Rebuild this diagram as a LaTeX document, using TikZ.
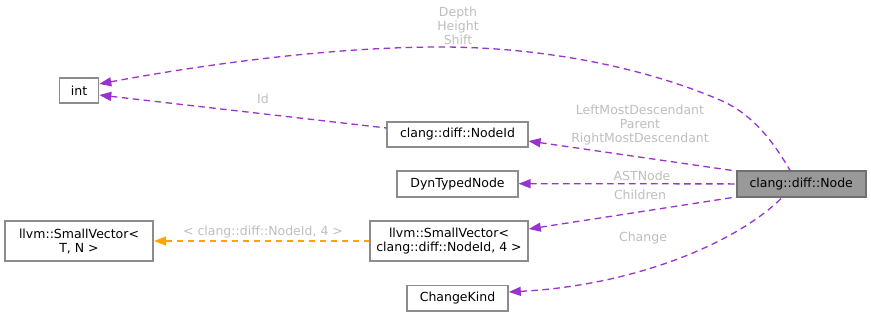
\documentclass[tikz,border=0pt]{standalone}
\usepackage{fontspec}
\setmainfont{DejaVu Sans}
\usetikzlibrary{arrows.meta}
\definecolor{edgepurple}{HTML}{9A32CD}
\definecolor{edgeorange}{HTML}{FFA500}
\definecolor{labelgrey}{HTML}{BEBEBE}
\definecolor{boxline}{HTML}{8C8C8C}
\definecolor{boxfill}{HTML}{999999}
\tikzset{
  cls/.style={draw=boxline, line width=1.6pt, fill=white, inner sep=0pt,
    font=\fontsize{12.5}{14}\selectfont, align=center, text=black},
  curcls/.style={cls, fill=boxfill, draw=boxline!80!black},
  rel/.style={draw=edgepurple, line width=1.3pt, dash pattern=on 6.5pt off 4.5pt,
    {Triangle[length=12pt,width=9pt,fill=edgepurple]}-},
  inst/.style={draw=edgeorange, line width=1.3pt, dash pattern=on 6.5pt off 4.5pt,
    {Triangle[length=12pt,width=9pt,fill=edgeorange]}-},
  lbl/.style={text=labelgrey, font=\fontsize{12.5}{14}\selectfont, align=center, inner sep=0pt}
}
\begin{document}
\begin{tikzpicture}[x=1pt,y=-1pt]
\useasboundingbox (0,0) rectangle (871,317);

% classes
\node[cls, minimum width=39pt, minimum height=25.5pt] (int) at (79,90.5) {int};
\node[cls, minimum width=140.5pt, minimum height=25.5pt] (nid) at (457.5,134.5) {clang::diff::NodeId};
\node[cls, minimum width=120.5pt, minimum height=26pt] (dyn) at (457.5,183.7) {DynTypedNode};
\node[curcls, minimum width=129pt, minimum height=25.7pt] (node) at (801.2,183.9) {clang::diff::Node};
\node[cls, minimum width=148.5pt, minimum height=40.3pt] (svtn) at (79,241) {llvm::SmallVector\textless\\T, N \textgreater};
\node[cls, minimum width=158pt, minimum height=40.3pt] (svid) at (449,241) {llvm::SmallVector\textless\\clang::diff::NodeId, 4 \textgreater};
\node[cls, minimum width=101pt, minimum height=25.7pt] (ck) at (457.5,298.2) {ChangeKind};

% member relations
\draw[rel] (int.east |- 0,84) .. controls (200,65) and (330,47) .. (440,47)
  .. controls (550,47) and (650,70) .. (720,100)
  .. controls (755,115) and (775,145) .. (node.north -| 790,0);
\node[lbl] (l1) at (458,26) {Depth\\Height\\Shift};

\draw[rel] (int.east |- 0,95) -- (nid.west |- 0,128);
\node[lbl] (l2) at (263,99) {Id};

\draw[rel] (nid.east |- 0,141) -- (node.north west |- 0,171) ;
\node[lbl] (l3) at (640,125) {LeftMostDescendant\\Parent\\RightMostDescendant};

\draw[rel] (dyn.east) -- (node.west);
\node[lbl] (l4) at (642,176) {ASTNode};

\draw[rel] (svid.east |- 0,229) -- (node.south west |- 0,197);
\node[lbl] (l5) at (640,195) {Children};

\draw[rel] (ck.east |- 0,292) .. controls (640,285) and (740,240) .. (node.south -| 782,0);
\node[lbl] (l6) at (643,238) {Change};

% template instantiation
\draw[inst] (svtn.east) -- (svid.west);
\node[lbl] (l7) at (263,232) {\textless{} clang::diff::NodeId, 4 \textgreater};
\end{tikzpicture}
\end{document}
